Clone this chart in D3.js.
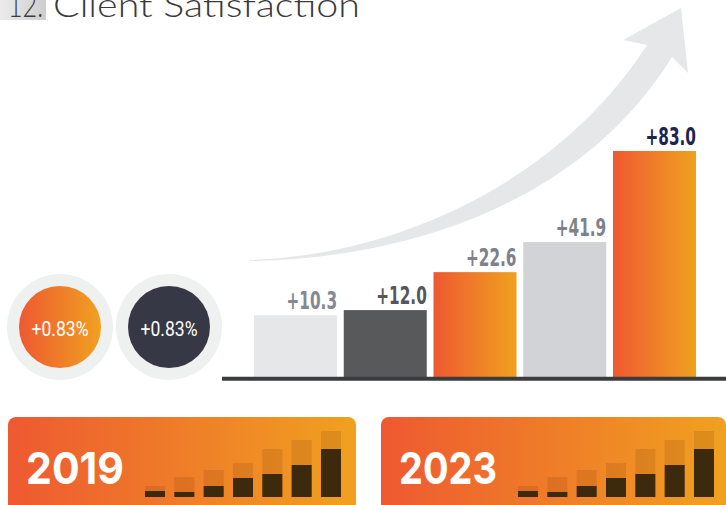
<!DOCTYPE html>
<html>
<head>
<meta charset="utf-8">
<script src="https://cdn.jsdelivr.net/npm/d3@7/dist/d3.min.js"></script>
<style>
  body { margin: 0; background: #fff; }
  svg { display: block; }
</style>
</head>
<body>
<div id="chart"></div>
<script>
// main bars
const categories = ['A', 'B', 'C', 'D', 'E']
const barValues = [27.3, 29.6, 46.4, 59.7, 100]
const barLabels = ['+10.3', '+12.0', '+22.6', '+41.9', '+83.0']
const barFills = ['#e6e7e8', '#58595b', 'grad', '#d1d3d7', 'grad']
const labelColors = ['#858891', '#55575d', '#7e818a', '#7e818a', '#1c2550']

// badges
const badgeLabels = ['+0.83%', '+0.83%']
const badgeFills = ['grad', '#363845']

// year cards with mini bars
const years = ['2019', '2023']
const miniCats = [1, 2, 3, 4, 5, 6, 7]
const miniBack = [11, 20, 27, 34, 48, 57, 66]
const miniFront = [6, 5, 11, 19, 23, 32, 48]

const width = 726, height = 505

const svg = d3.select('#chart')
  .append('svg')
    .attr('width', width)
    .attr('height', height)

const defs = svg.append('defs')
const grad = defs.append('linearGradient')
  .attr('id', 'orange')
  .attr('x1', '0%').attr('x2', '100%')
  .attr('y1', '0%').attr('y2', '0%')
grad.append('stop').attr('offset', '0%').attr('stop-color', '#ee5931')
grad.append('stop').attr('offset', '100%').attr('stop-color', '#f0a120')

const titleGrad = defs.append('linearGradient')
  .attr('id', 'titlebox')
  .attr('x1', '0%').attr('x2', '100%')
titleGrad.append('stop').attr('offset', '0%').attr('stop-color', '#ececec')
titleGrad.append('stop').attr('offset', '100%').attr('stop-color', '#cdcdcd')

const fillOf = c => c === 'grad' ? 'url(#orange)' : c

// title (cut by the top edge, as in the original)
svg.append('rect')
  .attr('x', 0).attr('y', 0)
  .attr('width', 46).attr('height', 20)
  .attr('fill', 'url(#titlebox)')
svg.append('text')
  .attr('x', 8).attr('y', 17)
  .attr('font-family', 'Lato, "Open Sans", sans-serif')
  .attr('font-weight', 300)
  .attr('font-size', 33)
  .attr('fill', '#3a3a3a')
  .attr('textLength', 35)
  .attr('lengthAdjust', 'spacingAndGlyphs')
  .text('12.')
svg.append('text')
  .attr('x', 53).attr('y', 17)
  .attr('font-family', 'Lato, "Open Sans", sans-serif')
  .attr('font-weight', 300)
  .attr('font-size', 33)
  .attr('fill', '#3a3a3a')
  .attr('textLength', 307)
  .attr('lengthAdjust', 'spacingAndGlyphs')
  .text('Client Satisfaction')

// swoosh arrow behind the bars
svg.append('path')
  .attr('fill', '#e6e7e8')
  .attr('d', 'M250,260 C400,255 560,180 647,45 L623,40 L681,8 L688,73 L672,57 C590,190 430,258 250,261 Z')

// bar scales
const x = d3.scaleBand()
  .domain(categories)
  .range([254, 696])
  .paddingInner(0.075)
  .paddingOuter(0)

const y = d3.scaleLinear()
  .domain([0, 100])
  .range([377, 151])

svg.append('g')
  .selectAll('rect')
  .data(categories)
  .join('rect')
    .attr('x', d => x(d))
    .attr('y', (d, i) => y(barValues[i]))
    .attr('width', x.bandwidth())
    .attr('height', (d, i) => y(0) - y(barValues[i]))
    .attr('fill', (d, i) => fillOf(barFills[i]))

// condensed value labels, right aligned on each bar
svg.append('g')
  .selectAll('text')
  .data(categories)
  .join('text')
    .attr('transform', (d, i) => `translate(${x(d) + x.bandwidth()},${y(barValues[i]) - 6}) scale(0.68,1)`)
    .attr('text-anchor', 'end')
    .attr('font-family', '"DejaVu Sans Condensed", sans-serif')
    .attr('font-weight', 'bold')
    .attr('font-size', 25)
    .attr('fill', (d, i) => labelColors[i])
    .text((d, i) => barLabels[i])

// baseline
svg.append('line')
  .attr('x1', 222).attr('x2', width)
  .attr('y1', 378.7).attr('y2', 378.7)
  .attr('stroke', '#3b3c40')
  .attr('stroke-width', 4)

// badges
const badge = svg.append('g')
  .selectAll('g')
  .data(badgeLabels)
  .join('g')
    .attr('transform', (d, i) => `translate(${60 + i * 109},327)`)
badge.append('circle')
  .attr('r', 53)
  .attr('fill', '#eff0f0')
badge.append('circle')
  .attr('r', 41)
  .attr('fill', (d, i) => fillOf(badgeFills[i]))
badge.append('text')
  .attr('transform', 'translate(0,9) scale(0.9,1)')
  .attr('text-anchor', 'middle')
  .attr('font-family', 'Roboto, sans-serif')
  .attr('font-size', 19.5)
  .attr('fill', '#fff')
  .text(d => d)

// year cards
const mx = d3.scaleBand()
  .domain(miniCats)
  .range([0, 196])
  .paddingInner(0.318)
  .paddingOuter(0)
const my = d3.scaleLinear()
  .domain([0, 66])
  .range([497, 431])

const cards = svg.append('g')
  .selectAll('g')
  .data(years)
  .join('g')
    .attr('transform', (d, i) => `translate(${i === 0 ? 8 : 381},0)`)

cards.append('rect')
  .attr('x', 0).attr('y', 417)
  .attr('width', (d, i) => i === 0 ? 348 : 345)
  .attr('height', 110)
  .attr('rx', 8)
  .attr('fill', 'url(#orange)')

cards.append('text')
  .attr('x', 18).attr('y', 484)
  .attr('font-family', 'Inter, "Open Sans", sans-serif')
  .attr('font-weight', 700)
  .attr('font-size', 44)
  .attr('fill', '#fff')
  .attr('textLength', 98)
  .attr('lengthAdjust', 'spacingAndGlyphs')
  .text(d => d)

const mini = cards.append('g')
  .attr('transform', 'translate(137,0)')

mini.selectAll('.back')
  .data(miniCats)
  .join('rect')
    .attr('class', 'back')
    .attr('x', d => mx(d))
    .attr('y', (d, i) => my(miniBack[i]))
    .attr('width', mx.bandwidth())
    .attr('height', (d, i) => my(0) - my(miniBack[i]))
    .attr('fill', 'rgba(90,30,0,0.13)')

mini.selectAll('.front')
  .data(miniCats)
  .join('rect')
    .attr('class', 'front')
    .attr('x', d => mx(d))
    .attr('y', (d, i) => my(miniFront[i]))
    .attr('width', mx.bandwidth())
    .attr('height', (d, i) => my(0) - my(miniFront[i]))
    .attr('fill', '#3d2a0d')
</script>
</body>
</html>
